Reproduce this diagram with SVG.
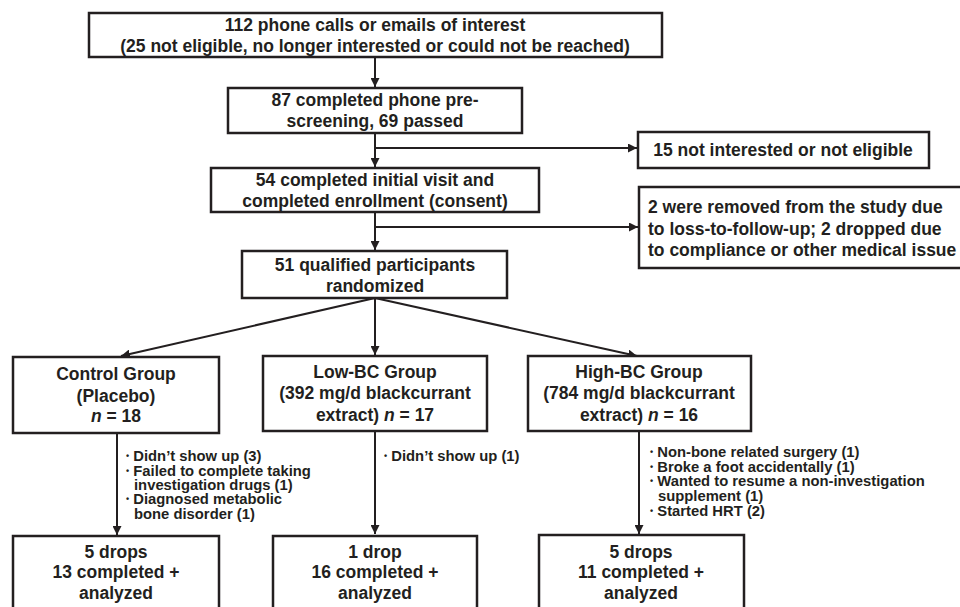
<svg xmlns="http://www.w3.org/2000/svg" width="960" height="607" viewBox="0 0 960 607">
<defs>
<style>
.box{fill:#fff;stroke:#231f20;stroke-width:2.5}
.t{font-family:"Liberation Sans",Arial,sans-serif;font-weight:bold;font-size:17.5px;fill:#231f20;text-anchor:middle}
.l{text-anchor:start}
.b{font-family:"Liberation Sans",Arial,sans-serif;font-weight:bold;font-size:14.8px;fill:#231f20}
.d{font-size:9px}
.c{stroke:#231f20;stroke-width:2;fill:none}
</style>
<marker id="ah" viewBox="0 0 10 10" refX="10" refY="5" markerWidth="4.5" markerHeight="4.5" orient="auto" markerUnits="strokeWidth">
<path d="M0,0 L10,5 L0,10 z" fill="#231f20"/>
</marker>
</defs>
<rect width="960" height="607" fill="#fff"/>
<g id="connectors">
<line class="c" x1="375" y1="57" x2="375" y2="87" marker-end="url(#ah)"/>
<line class="c" x1="375" y1="133" x2="375" y2="167" marker-end="url(#ah)"/>
<line class="c" x1="375" y1="148" x2="637" y2="148" marker-end="url(#ah)"/>
<line class="c" x1="375" y1="212" x2="375" y2="250" marker-end="url(#ah)"/>
<line class="c" x1="375" y1="227" x2="638" y2="227" marker-end="url(#ah)"/>
<line class="c" x1="375" y1="298" x2="121" y2="356" marker-end="url(#ah)"/>
<line class="c" x1="375" y1="298" x2="375" y2="355" marker-end="url(#ah)"/>
<line class="c" x1="375" y1="298" x2="637" y2="356" marker-end="url(#ah)"/>
<line class="c" x1="117" y1="433" x2="117" y2="535" marker-end="url(#ah)"/>
<line class="c" x1="375" y1="431" x2="375" y2="534" marker-end="url(#ah)"/>
<line class="c" x1="639" y1="431" x2="639" y2="534" marker-end="url(#ah)"/>
</g>
<g id="n_interest">
<rect class="box" x="89" y="13" width="573" height="44"/>
<text class="t" x="375" y="31">112 phone calls or emails of interest</text>
<text class="t" x="375" y="52">(25 not eligible, no longer interested or could not be reached)</text>
</g>
<g id="n_prescreen">
<rect class="box" x="228" y="88" width="294" height="45"/>
<text class="t" x="375" y="106">87 completed phone pre-</text>
<text class="t" x="375" y="127">screening, 69 passed</text>
</g>
<g id="n_excl1">
<rect class="box" x="638" y="132" width="291" height="36"/>
<text class="t" x="783" y="156">15 not interested or not eligible</text>
</g>
<g id="n_enroll">
<rect class="box" x="211" y="168" width="328" height="44"/>
<text class="t" x="375" y="186">54 completed initial visit and</text>
<text class="t" x="375" y="207">completed enrollment (consent)</text>
</g>
<g id="n_excl2">
<rect class="box" x="639" y="187" width="330" height="81"/>
<text class="t l" x="648" y="213">2 were removed from the study due</text>
<text class="t l" x="648" y="235">to loss-to-follow-up; 2 dropped due</text>
<text class="t l" x="648" y="256">to compliance or other medical issue</text>
</g>
<g id="n_random">
<rect class="box" x="242" y="251" width="265" height="47"/>
<text class="t" x="375" y="271">51 qualified participants</text>
<text class="t" x="375" y="292">randomized</text>
</g>
<g id="n_control">
<rect class="box" x="13" y="357" width="206" height="76"/>
<text class="t" x="116" y="380">Control Group</text>
<text class="t" x="116" y="402">(Placebo)</text>
<text class="t" x="116" y="422"><tspan font-style="italic">n</tspan> = 18</text>
</g>
<g id="n_low">
<rect class="box" x="263" y="356" width="224" height="75"/>
<text class="t" x="375" y="378">Low-BC Group</text>
<text class="t" x="375" y="399">(392 mg/d blackcurrant</text>
<text class="t" x="375" y="421">extract) <tspan font-style="italic">n</tspan> = 17</text>
</g>
<g id="n_high">
<rect class="box" x="528" y="356" width="223" height="75"/>
<text class="t" x="639" y="378">High-BC Group</text>
<text class="t" x="639" y="399">(784 mg/d blackcurrant</text>
<text class="t" x="639" y="421">extract) <tspan font-style="italic">n</tspan> = 16</text>
</g>
<g id="n_control_reasons">
<text class="b" x="126" y="461"><tspan class="d" dy="-2">•</tspan><tspan dy="2"> Didn’t show up (3)</tspan></text>
<text class="b" x="126" y="476"><tspan class="d" dy="-2">•</tspan><tspan dy="2"> Failed to complete taking</tspan></text>
<text class="b" x="134" y="490">investigation drugs (1)</text>
<text class="b" x="126" y="504"><tspan class="d" dy="-2">•</tspan><tspan dy="2"> Diagnosed metabolic</tspan></text>
<text class="b" x="134" y="519">bone disorder (1)</text>
</g>
<g id="n_low_reasons">
<text class="b" x="384" y="461"><tspan class="d" dy="-2">•</tspan><tspan dy="2"> Didn’t show up (1)</tspan></text>
</g>
<g id="n_high_reasons">
<text class="b" x="650" y="457"><tspan class="d" dy="-2">•</tspan><tspan dy="2"> Non-bone related surgery (1)</tspan></text>
<text class="b" x="650" y="472"><tspan class="d" dy="-2">•</tspan><tspan dy="2"> Broke a foot accidentally (1)</tspan></text>
<text class="b" x="650" y="486"><tspan class="d" dy="-2">•</tspan><tspan dy="2"> Wanted to resume a non-investigation</tspan></text>
<text class="b" x="658" y="501">supplement (1)</text>
<text class="b" x="650" y="516"><tspan class="d" dy="-2">•</tspan><tspan dy="2"> Started HRT (2)</tspan></text>
</g>
<g id="n_control_out">
<rect class="box" x="13" y="536" width="206" height="90"/>
<text class="t" x="116" y="558">5 drops</text>
<text class="t" x="116" y="578">13 completed +</text>
<text class="t" x="116" y="599">analyzed</text>
</g>
<g id="n_low_out">
<rect class="box" x="273" y="536" width="204" height="90"/>
<text class="t" x="375" y="558">1 drop</text>
<text class="t" x="375" y="578">16 completed +</text>
<text class="t" x="375" y="599">analyzed</text>
</g>
<g id="n_high_out">
<rect class="box" x="539" y="535" width="205" height="90"/>
<text class="t" x="641" y="558">5 drops</text>
<text class="t" x="641" y="578">11 completed +</text>
<text class="t" x="641" y="599">analyzed</text>
</g>
</svg>
